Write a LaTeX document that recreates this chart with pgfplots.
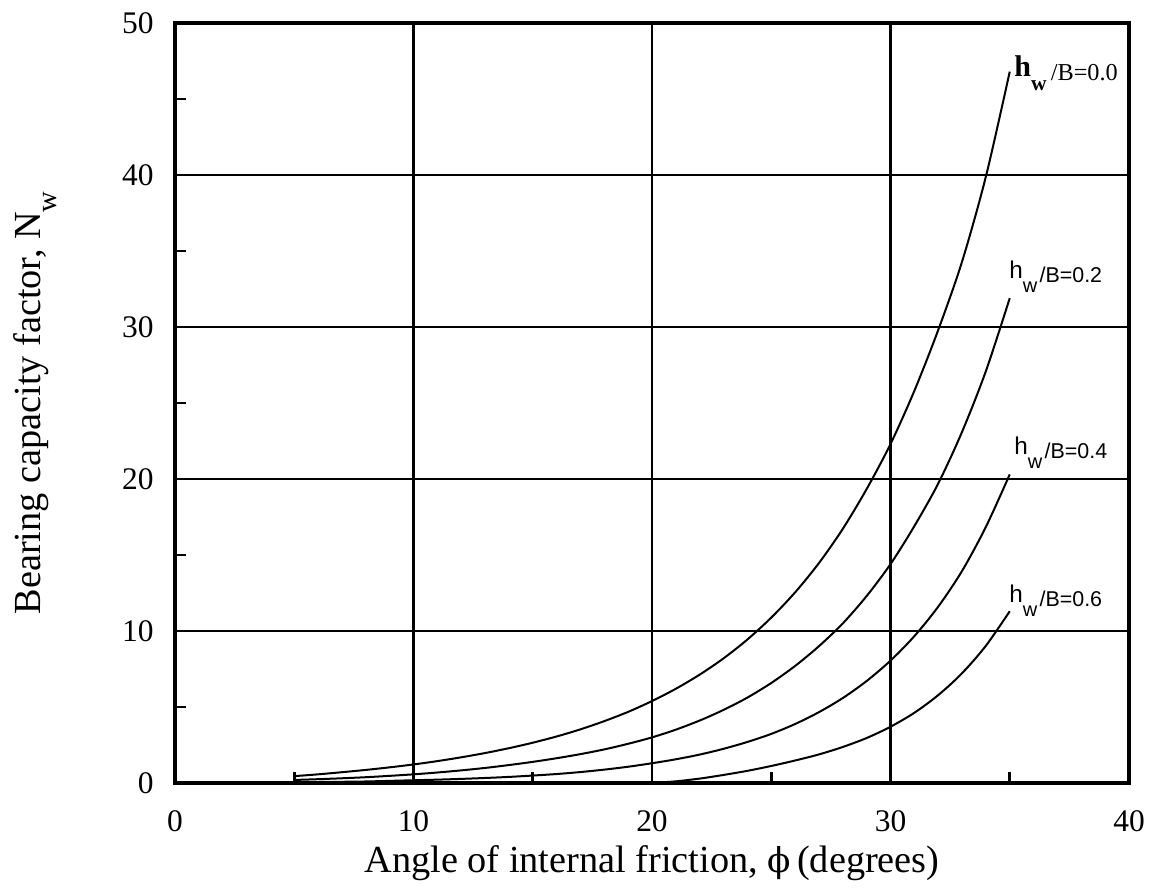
\documentclass[border=0pt]{standalone}
\usepackage{pgfplots}
\pgfplotsset{compat=1.18}
\usepackage{fontspec}
\setmainfont{Liberation Serif}
\newfontfamily\sansf{Liberation Sans}
\newfontfamily\djserif{DejaVu Serif}
\newcommand{\slabel}[1]{{\sansf\fontsize{8.5}{10}\selectfont h}\raisebox{-5pt}{\sansf\fontsize{7}{8}\selectfont w}\hspace{0.8pt}\raisebox{-1.4pt}{\sansf\fontsize{7.5}{9}\selectfont /B=#1}}
\begin{document}
\begin{tikzpicture}
\begin{axis}[name=ax, scale only axis, width=333.9pt, height=266pt,
 xmin=0,xmax=40,ymin=0,ymax=50,
 xtick={0,10,...,40}, ytick={0,10,...,50},
 minor x tick num=1, minor y tick num=1,
 tick align=inside, xtick pos=bottom, ytick pos=left,
 major tick length=0pt, minor tick length=3.8pt,
 minor tick style={line width=0.9pt, black},
 grid=major, major grid style={black, line width=1pt},
 axis line style={line width=1.1pt},
 /pgf/number format/assume math mode=true,
 tick label style={font=\fontsize{11}{13}\selectfont},
 xticklabel style={yshift=-6pt},
 yticklabel style={xshift=-4pt},
 xlabel={Angle of internal friction, {\djserif\fontsize{12}{14}\selectfont ϕ}\,(degrees)},
 ylabel={Bearing capacity factor, N\raisebox{-0.9ex}{\fontsize{10}{12}\selectfont w}},
 label style={font=\fontsize{13.4}{15}\selectfont},
 xlabel style={at={(axis description cs:0.5,-0.1184)}, anchor=base},
 ylabel style={at={(axis description cs:-0.1468,0.5)}, anchor=center},
 clip=false,
]
% h_w/B = 0.0
\addplot[black, line width=0.7pt, smooth] coordinates {
(5,0.45)(6,0.57)(7,0.71)(8,0.86)(9,1.03)(10,1.22)(11,1.44)(12,1.69)(13,1.97)(14,2.29)
(15,2.65)(16,3.06)(17,3.53)(18,4.07)(19,4.68)(20,5.39)(21,6.20)(22,7.13)(23,8.20)(24,9.44)
(25,10.88)(26,12.54)(27,14.47)(28,16.72)(29,19.34)(30,22.3)(31,25.8)(32,29.8)(33,34.3)(34,39.9)(35,46.8)};
% h_w/B = 0.2
\addplot[black, line width=0.7pt, smooth] coordinates {
(5,0.20)(6,0.25)(7,0.31)(8,0.38)(9,0.47)(10,0.57)(11,0.69)(12,0.83)(13,0.99)(14,1.18)
(15,1.39)(16,1.63)(17,1.90)(18,2.21)(19,2.58)(20,3.00)(21,3.51)(22,4.11)(23,4.81)(24,5.62)
(25,6.58)(26,7.70)(27,9.0)(28,10.5)(29,12.3)(30,14.4)(31,16.9)(32,19.7)(33,23.1)(34,27.1)(35,31.9)};
% h_w/B = 0.4
\addplot[black, line width=0.7pt, smooth] coordinates {
(5,0.05)(6,0.065)(7,0.08)(8,0.10)(9,0.14)(10,0.18)(11,0.22)(12,0.27)(13,0.33)(14,0.40)
(15,0.49)(16,0.59)(17,0.72)(18,0.88)(19,1.07)(20,1.30)(21,1.56)(22,1.87)(23,2.25)(24,2.70)
(25,3.23)(26,3.88)(27,4.66)(28,5.59)(29,6.71)(30,8.05)(31,9.66)(32,11.6)(33,13.95)(34,16.85)(35,20.3)};
% h_w/B = 0.6
\addplot[black, line width=0.7pt, smooth] coordinates {
(20,0.0)(21,0.11)(22,0.29)(23,0.53)(24,0.80)(25,1.12)(26,1.48)(27,1.88)(28,2.37)(29,2.96)
(30,3.7)(31,4.62)(32,5.78)(33,7.22)(34,9.03)(35,11.3)};

\node[anchor=base west, inner sep=0] at (axis cs:35.17,46.5)
 {{\fontsize{10.5}{12}\selectfont\bfseries h}\raisebox{-5pt}{\fontsize{7.5}{9}\selectfont\bfseries w}\hspace{1.5pt}\raisebox{-1.4pt}{\fontsize{8.5}{10}\selectfont /B=0.0}};
\node[anchor=base west, inner sep=0] at (axis cs:34.96,33.2) {\slabel{0.2}};
\node[anchor=base west, inner sep=0] at (axis cs:35.17,21.6) {\slabel{0.4}};
\node[anchor=base west, inner sep=0] at (axis cs:34.96,11.9) {\slabel{0.6}};
\end{axis}
\path[use as bounding box] ([shift={(-61.25pt,-37.45pt)}]ax.south west) rectangle ([shift={(9.1pt,8.05pt)}]ax.north east);
\end{tikzpicture}
\end{document}
